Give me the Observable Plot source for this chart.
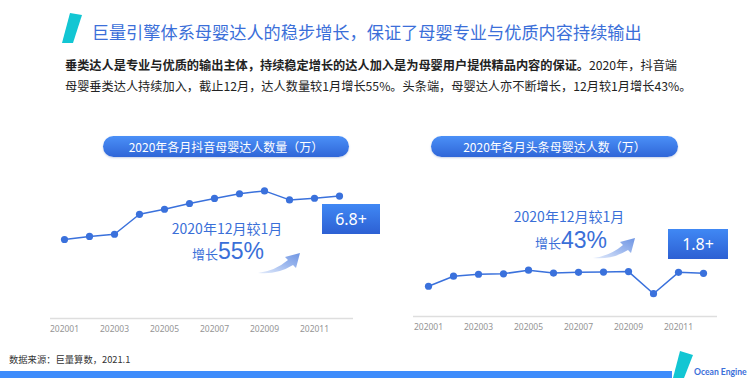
<!DOCTYPE html>
<html>
<head>
<meta charset="utf-8">
<script src="https://cdn.jsdelivr.net/npm/d3@7"></script>
<script src="https://cdn.jsdelivr.net/npm/@observablehq/plot@0.6"></script>
<style>
  html, body { margin: 0; padding: 0; background: #fff; }
  body { width: 755px; height: 378px; position: relative; overflow: hidden;
         font-family: "Noto Sans CJK SC", "Noto Sans", sans-serif; }
  .abs { position: absolute; white-space: nowrap; line-height: 1; }
  .c { transform: translate(-50%, -50%); }
  .v { transform: translate(0, -50%); }
  .pill { position: absolute; height: 21px; border-radius: 11px;
          background: linear-gradient(180deg, #4b90f7 0%, #2f66d8 100%);
          box-shadow: 0 1px 2px rgba(40,80,160,0.25);
          color: #fff; font-size: 12px; line-height: 21px; text-align: center; }
  .box { position: absolute; height: 30px; color: #fff; font-size: 16px; line-height: 30px;
         text-align: center; background: linear-gradient(180deg, #4088f4 0%, #2d60d3 100%);
         font-family: "Noto Sans", "Open Sans", sans-serif; }
  .anno { color: #3a6fd8; }
  .l2 { font-size: 23px; font-family: "Liberation Sans", Arial, sans-serif; }
  .l2 .s { font-size: 13px; font-family: "Noto Sans CJK SC", sans-serif; }
  .chart { position: absolute; }
</style>
</head>
<body>
<script>
// ---- data ----
const months = ["202001","202002","202003","202004","202005","202006","202007","202008","202009","202010","202011","202012"];
const tickLabels = ["202001","202003","202005","202007","202009","202011"];
const douyinValues = [4.39, 4.56, 4.68, 5.79, 6.07, 6.39, 6.67, 6.93, 7.09, 6.59, 6.68, 6.8];
const toutiaoValues = [1.26, 1.68, 1.76, 1.78, 1.93, 1.81, 1.84, 1.85, 1.87, 0.95, 1.84, 1.8];
const titleText = "巨量引擎体系母婴达人的稳步增长，保证了母婴专业与优质内容持续输出";
const leftTitle = "2020年各月抖音母婴达人数量（万）";
const rightTitle = "2020年各月头条母婴达人数（万）";
const leftBadge = "6.8+";
const rightBadge = "1.8+";
const leftGrowth = "55%";
const rightGrowth = "43%";
const sourceText = "数据来源：巨量算数，2021.1";

const douyin = months.map((m, i) => ({month: m, value: douyinValues[i]}));
const toutiao = months.map((m, i) => ({month: m, value: toutiaoValues[i]}));

const lineColor = "#3a71dc";

function makeChart(data, opts) {
  return Plot.plot({
    width: opts.width,
    height: opts.height,
    marginLeft: opts.marginLeft,
    marginRight: opts.marginRight,
    marginTop: opts.marginTop,
    marginBottom: opts.marginBottom,
    style: {fontSize: "8.5px", color: "#959595", fontFamily: "'Noto Sans', 'Liberation Sans', sans-serif", background: "transparent"},
    x: {type: "point", domain: months, padding: 0.5, ticks: tickLabels, tickSize: 0, tickPadding: opts.tickPadding, label: null},
    y: {domain: opts.yDomain, axis: null},
    marks: [
      Plot.ruleY([0], {stroke: "#dedede", strokeWidth: 1.5}),
      Plot.line(data, {x: "month", y: "value", stroke: lineColor, strokeWidth: 1.5}),
      Plot.dot(data, {x: "month", y: "value", r: 3.6, fill: lineColor, stroke: "none"})
    ]
  });
}

const left = makeChart(douyin, {width: 380, height: 183, marginLeft: 50, marginRight: 27, marginTop: 14, marginBottom: 25, yDomain: [0, 8], tickPadding: 7});
left.classList.add("chart");
left.style.left = "0px"; left.style.top = "160px";
document.body.appendChild(left);

const right = makeChart(toutiao, {width: 375, height: 181, marginLeft: 33, marginRight: 38, marginTop: 12, marginBottom: 25, yDomain: [0, 6], tickPadding: 7});
right.classList.add("chart");
right.style.left = "380px"; right.style.top = "160px";
document.body.appendChild(right);

function el(tag, cls, styles, html) {
  const e = document.createElement(tag);
  if (cls) e.className = cls;
  Object.assign(e.style, styles);
  if (html != null) e.innerHTML = html;
  document.body.appendChild(e);
  return e;
}

// decorative shapes (title icon, arrows, footer logo)
const ns = "http://www.w3.org/2000/svg";
el("div", "", {position: "absolute", left: "0", top: "0", width: "755px", height: "378px", pointerEvents: "none"},
`<svg xmlns="${ns}" width="755" height="378" style="position:absolute;left:0;top:0">
  <defs>
    <linearGradient id="ag" x1="0" y1="1" x2="1" y2="0">
      <stop offset="0" stop-color="#e4ecfb"/>
      <stop offset="0.55" stop-color="#9db8ee"/>
      <stop offset="1" stop-color="#6f95e3"/>
    </linearGradient>
  </defs>
  <polygon points="70,13 82,15 73,43 62,43" fill="#12c6d3"/>
  <g transform="translate(255,246)"><path d="M3,27 Q20,25 33,14 L30,11 L45,7 L41,22 L38,19 Q22,29 3,27 Z" fill="url(#ag)"/></g>
  <g transform="translate(590,231)"><path d="M3,27 Q20,25 33,14 L30,11 L45,7 L41,22 L38,19 Q22,29 3,27 Z" fill="url(#ag)"/></g>
  <rect x="0" y="371" width="672" height="7" fill="#3e8cfb"/>
  <polygon points="680,351 693,355 684,378 673,378" fill="#12c6d3"/>
</svg>`);

// title
el("div", "abs v", {left: "91.7px", top: "31.7px", fontSize: "17.2px", color: "#3b6fd9"}, titleText);
// paragraph
el("div", "abs v", {left: "65px", top: "65px", fontSize: "12.2px", color: "#222"},
  "<b>垂类达人是专业与优质的输出主体，持续稳定增长的达人加入是为母婴用户提供精品内容的保证。</b>2020年，抖音端");
el("div", "abs v", {left: "65px", top: "86px", fontSize: "12.2px", color: "#222"},
  "母婴垂类达人持续加入，截止12月，达人数量较1月增长55%。头条端，母婴达人亦不断增长，12月较1月增长43%。");

// pills
el("div", "pill", {left: "103px", top: "136px", width: "246px"}, leftTitle);
el("div", "pill", {left: "431px", top: "136px", width: "247px"}, rightTitle);

// badges
el("div", "box", {left: "322px", top: "204px", width: "58px"}, leftBadge);
el("div", "box", {left: "668px", top: "229px", width: "60px"}, rightBadge);

// annotations
el("div", "abs c anno", {left: "227px", top: "227.5px", fontSize: "14px"}, "2020年12月较1月");
el("div", "abs c anno l2", {left: "228px", top: "251.3px"}, `<span class="s">增长</span>${leftGrowth}`);
el("div", "abs c anno", {left: "569px", top: "216.2px", fontSize: "14px"}, "2020年12月较1月");
el("div", "abs c anno l2", {left: "571px", top: "240.3px"}, `<span class="s">增长</span>${rightGrowth}`);

// footer
el("div", "abs v", {left: "9px", top: "360px", fontSize: "9.3px", color: "#333"}, sourceText);
el("div", "abs v", {left: "694px", top: "372px", fontSize: "8.6px", color: "#3b6fd9", fontWeight: "700", fontFamily: "Lato, 'Open Sans', sans-serif"}, "Ocean Engine");
</script>
</body>
</html>
